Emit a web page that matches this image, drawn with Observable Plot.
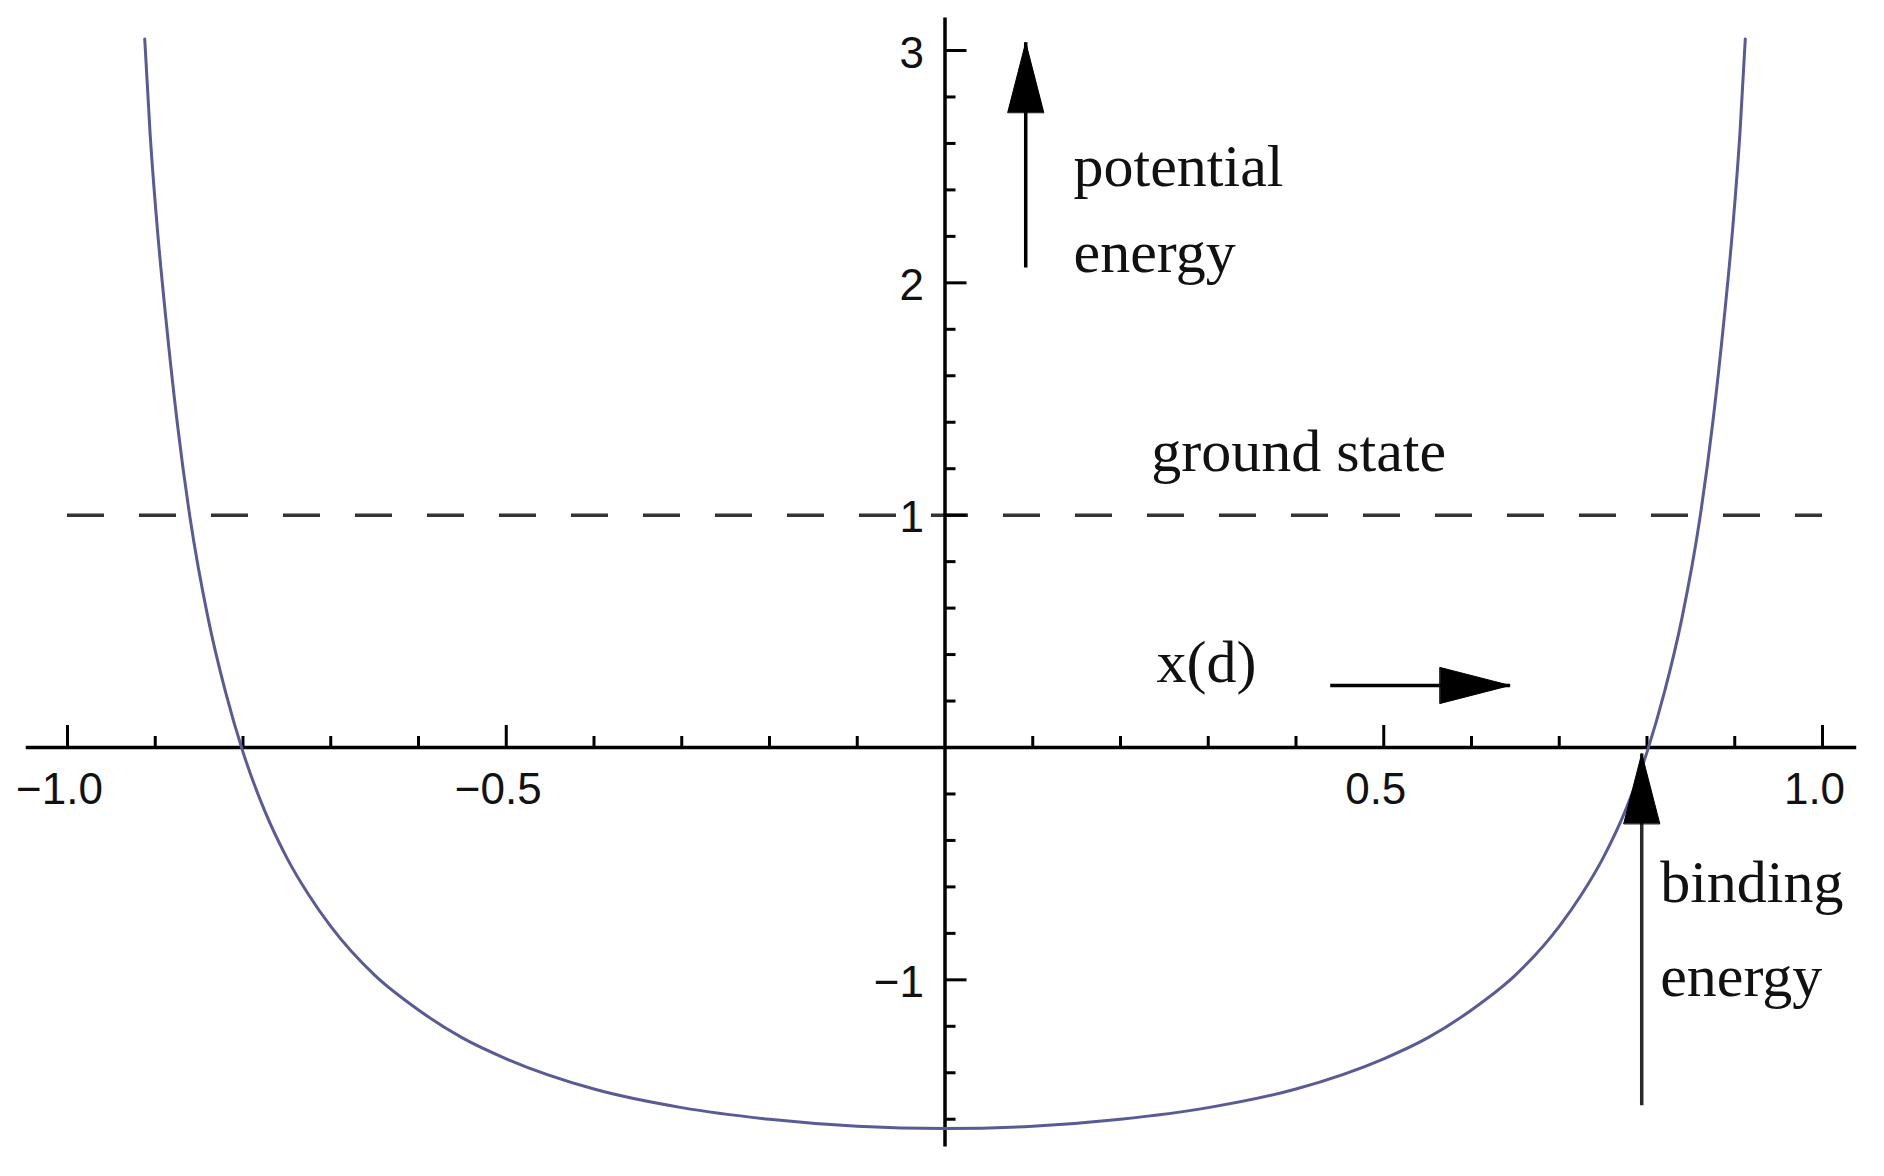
<!DOCTYPE html>
<html>
<head>
<meta charset="utf-8">
<script src="https://cdn.jsdelivr.net/npm/d3@7"></script>
<script src="https://cdn.jsdelivr.net/npm/@observablehq/plot@0.6"></script>
<style>
  html, body { margin: 0; padding: 0; background: #ffffff; }
  #chart { width: 1884px; height: 1176px; }
</style>
</head>
<body>
<div id="chart"></div>
<script>
// ---- data ----
const curveX = [-0.912, -0.906, -0.898, -0.888, -0.875, -0.86, -0.84, -0.82, -0.8, -0.775, -0.75, -0.725, -0.7, -0.65, -0.6, -0.55, -0.5, -0.4, -0.3, -0.2, -0.1, 0,
                 0.1, 0.2, 0.3, 0.4, 0.5, 0.55, 0.6, 0.65, 0.7, 0.725, 0.75, 0.775, 0.8, 0.82, 0.84, 0.86, 0.875, 0.888, 0.898, 0.906, 0.912];
const curveY = [3.05, 2.65, 2.25, 1.85, 1.40, 0.98, 0.56, 0.24, -0.02, -0.275, -0.475, -0.635, -0.77, -0.98, -1.13, -1.25, -1.34, -1.47, -1.55, -1.60, -1.63, -1.64,
                 -1.63, -1.60, -1.55, -1.47, -1.34, -1.25, -1.13, -0.98, -0.77, -0.635, -0.475, -0.275, -0.02, 0.24, 0.56, 0.98, 1.40, 1.85, 2.25, 2.65, 3.05];
const groundState = 1;
const groundExtent = [-1, 1];
const xAxisExtent = [-1.047, 1.039];
const yAxisExtent = [-1.72, 3.14];
const xMajorTicks = [-1, -0.5, 0.5, 1];
const xMinorTicks = [-0.9, -0.8, -0.7, -0.6, -0.4, -0.3, -0.2, -0.1, 0.1, 0.2, 0.3, 0.4, 0.6, 0.7, 0.8, 0.9];
const xTickLabels = ["\u22121.0", "\u22120.5", "0.5", "1.0"];
const yMajorTicks = [-1, 1, 2, 3];
const yMinorTicks = [-1.6, -1.4, -1.2, -0.8, -0.6, -0.4, -0.2, 0.2, 0.4, 0.6, 0.8, 1.2, 1.4, 1.6, 1.8, 2.2, 2.4, 2.6, 2.8];
const yTickLabels = ["\u22121", "1", "2", "3"];
const noteText = ["potential", "energy", "ground state", "x(d)", "binding", "energy"];
const noteX = [0.1465, 0.1465, 0.235, 0.241, 0.815, 0.815];
const noteY = [2.415, 2.045, 1.192, 0.28, -0.663, -1.068];
const arrowX1 = [0.092, 0.439, 0.794];
const arrowY1 = [2.066, 0.267, -1.54];
const arrowX2 = [0.092, 0.644, 0.794];
const arrowY2 = [3.035, 0.267, -0.026];
const arrowDir = [0, 90, 0];
const arrowColor = ["#000000", "#000000", "#2a2a2a"];

// ---- build tables ----
const curve = curveX.map((x, i) => ({x, y: curveY[i]}));
const notes = noteText.map((t, i) => ({t, x: noteX[i], y: noteY[i]}));
const arrows = arrowX1.map((x1, i) => ({x1, y1: arrowY1[i], x2: arrowX2[i], y2: arrowY2[i], rot: arrowDir[i], c: arrowColor[i]}));
const xLabels = xMajorTicks.map((v, i) => ({v, t: xTickLabels[i]}));
const yLabels = yMajorTicks.map((v, i) => ({v, t: yTickLabels[i]}));

const headShape = {
  draw(ctx, l, r) {
    ctx.moveTo(-r, 0);
    ctx.lineTo(0, -l);
    ctx.lineTo(r, 0);
    ctx.closePath();
  }
};

const tickFont = "Liberation Sans, Arial, sans-serif";
const noteFont = "Liberation Serif, Times New Roman, serif";

const chart = Plot.plot({
  width: 1884,
  height: 1176,
  margin: 0,
  style: {background: "#ffffff"},
  x: {domain: [-1, 1], range: [67, 1822], axis: null},
  y: {domain: [0, 3], range: [747, 50], axis: null},
  color: {type: "identity"},
  marks: [
    // ground state dashed line
    Plot.ruleY([groundState], {x1: groundExtent[0], x2: groundExtent[1], stroke: "#333333", strokeWidth: 3.5, strokeDasharray: "37,35"}),
    // axes
    Plot.ruleY([0], {x1: xAxisExtent[0], x2: xAxisExtent[1], stroke: "#000", strokeWidth: 3.5}),
    Plot.ruleX([0], {y1: yAxisExtent[0], y2: yAxisExtent[1], stroke: "#000", strokeWidth: 3.5}),
    // x ticks (pointing up)
    Plot.ruleX(xMajorTicks, {x: d => d, y1: () => 0, y2: () => 0, insetTop: -22, stroke: "#000", strokeWidth: 3}),
    Plot.ruleX(xMinorTicks, {x: d => d, y1: () => 0, y2: () => 0, insetTop: -11, stroke: "#000", strokeWidth: 3}),
    // y ticks (pointing right)
    Plot.ruleY(yMajorTicks, {y: d => d, x1: () => 0, x2: () => 0, insetRight: -22, stroke: "#000", strokeWidth: 3}),
    Plot.ruleY(yMinorTicks, {y: d => d, x1: () => 0, x2: () => 0, insetRight: -11, stroke: "#000", strokeWidth: 3}),
    // tick labels
    Plot.text(xLabels, {x: "v", y: () => 0, text: "t", dy: 42, dx: -8, fontSize: 44, fontFamily: tickFont, fill: "#111", lineAnchor: "middle"}),
    Plot.text(yLabels, {x: () => 0, y: "v", text: "t", dx: -21, dy: 3, textAnchor: "end", fontSize: 44, fontFamily: tickFont, fill: "#111", lineAnchor: "middle"}),
    // potential curve
    Plot.line(curve, {x: "x", y: "y", curve: "monotone-x", stroke: "#5a5a96", strokeWidth: 3}),
    // arrows
    Plot.link(arrows, {x1: "x1", y1: "y1", x2: "x2", y2: "y2", stroke: "c", strokeWidth: 3.5}),
    Plot.vector(arrows, {x: "x2", y: "y2", rotate: "rot", length: 70, r: 18, shape: headShape, anchor: "end", fill: "#000", stroke: "#000", strokeWidth: 1}),
    // annotations
    Plot.text(notes, {x: "x", y: "y", text: "t", textAnchor: "start", lineAnchor: "bottom", fontSize: 60, fontFamily: noteFont, fill: "#111"})
  ]
});
document.getElementById("chart").appendChild(chart);
</script>
</body>
</html>
